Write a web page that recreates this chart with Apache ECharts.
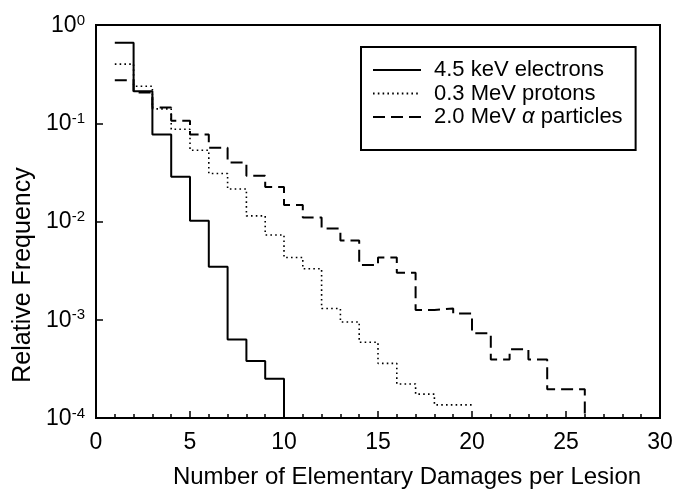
<!DOCTYPE html>
<html>
<head>
<meta charset="utf-8">
<script src="https://cdn.jsdelivr.net/npm/echarts@6/dist/echarts.min.js"></script>
<style>
  html, body { margin: 0; padding: 0; background: #fff; }
  #chart { width: 673px; height: 490px; }
</style>
</head>
<body>
<div id="chart"></div>
<script>
// Relative frequency per bin; bin i spans [firstBin + i, firstBin + i + 1)
const firstBin = 1;
const electrons = [0.658, 0.212, 0.077, 0.0285, 0.0102, 0.00346, 0.00063, 0.00038, 0.000251];
const protons = [0.40, 0.238, 0.14, 0.087, 0.0532, 0.0308, 0.0214, 0.0114, 0.0073, 0.0043,
                 0.0033, 0.0013, 0.00095, 0.00059, 0.00036, 0.000222, 0.000175, 0.000136, 0.000136];
const alphas = [0.274, 0.206, 0.145, 0.106, 0.0769, 0.0562, 0.0399, 0.0292, 0.0225, 0.0147,
                0.011, 0.0085, 0.0064, 0.0036, 0.0043, 0.0030, 0.00126, 0.0013, 0.00116, 0.00073,
                0.000395, 0.0005, 0.000395, 0.000196, 0.000196];

// Level each histogram closes at, on its last bin edge
const yFloor = 1e-4;
const electronsEnd = yFloor;
const protonsEnd = protons[protons.length - 1];
const alphasEnd = yFloor;

const seriesNames = ['4.5 keV electrons', '0.3 MeV protons', '2.0 MeV α particles'];
const xTicks = { min: 0, max: 30, step: 5 };
const yRange = { min: 1e-4, max: 1 };

function toSteps(values, endLevel) {
  const pts = values.map((v, i) => [firstBin + i, v]);
  pts.push([firstBin + values.length, endLevel]);
  return pts;
}

const FONT = '"Liberation Sans", Arial, Helvetica, sans-serif';

const chart = echarts.init(document.getElementById('chart'), null, { renderer: 'canvas' });

const lineBase = { type: 'line', step: 'end', symbol: 'none', showSymbol: false, animation: false };

chart.setOption({
  backgroundColor: '#fff',
  animation: false,
  grid: {
    left: 96, right: 13, top: 25, bottom: 72,
    containLabel: false,
    outerBoundsMode: 'none',
    show: true, borderColor: '#000', borderWidth: 2, backgroundColor: 'transparent'
  },
  legend: {
    orient: 'vertical',
    left: 361, top: 47,
    padding: [12, 13, 22, 11],
    itemGap: 1.5,
    itemWidth: 48,
    itemHeight: 14,
    borderColor: '#000',
    borderWidth: 2,
    backgroundColor: '#fff',
    data: seriesNames,
    // line samples only, no marker dot
    itemStyle: { opacity: 0, color: 'transparent', borderWidth: 0 },
    formatter: function (name) {
      return name.replace('α', '{a|α}');
    },
    textStyle: {
      fontFamily: FONT, fontSize: 22, color: '#000', lineHeight: 22,
      padding: [0, 0, 0, 8],
      rich: { a: { fontFamily: FONT, fontSize: 22, fontStyle: 'italic', color: '#000' } }
    }
  },
  xAxis: {
    type: 'value',
    min: xTicks.min, max: xTicks.max, interval: xTicks.step,
    name: 'Number of Elementary Damages per Lesion',
    nameLocation: 'middle',
    nameGap: 47,
    nameTextStyle: { fontFamily: FONT, fontSize: 24, color: '#000', padding: [0, 0, 0, 58] },
    axisLine: { lineStyle: { color: '#000', width: 2 } },
    axisTick: { inside: true, length: 7, lineStyle: { color: '#000', width: 1.5 } },
    minorTick: { show: true, splitNumber: 5, length: 4, lineStyle: { color: '#000', width: 1.5 } },
    splitLine: { show: false },
    minorSplitLine: { show: false },
    axisLabel: { fontFamily: FONT, fontSize: 23, color: '#000', margin: 13 }
  },
  yAxis: {
    type: 'log', logBase: 10,
    min: yRange.min, max: yRange.max,
    axisLine: { show: true, lineStyle: { color: '#000', width: 2 } },
    axisTick: { show: true, inside: true, length: 7, lineStyle: { color: '#000', width: 1.5 } },
    minorTick: { show: false },
    splitLine: { show: false },
    axisLabel: {
      margin: 11,
      formatter: function (v) {
        const e = Math.round(Math.log10(v));
        return '{b|10}{s|' + e + '}';
      },
      rich: {
        b: { fontFamily: FONT, fontSize: 23, color: '#000', lineHeight: 24, verticalAlign: 'bottom' },
        s: { fontFamily: FONT, fontSize: 15, color: '#000', lineHeight: 12, verticalAlign: 'top' }
      }
    }
  },
  graphic: [{
    type: 'text',
    x: 23, y: 275,
    rotation: Math.PI / 2,
    style: {
      text: 'Relative Frequency',
      font: '25px ' + FONT,
      fill: '#000',
      align: 'center',
      verticalAlign: 'middle'
    }
  }],
  series: [
    Object.assign({}, lineBase, {
      name: seriesNames[0],
      data: toSteps(electrons, electronsEnd),
      lineStyle: { color: '#000', width: 2, type: 'solid' },
      itemStyle: { color: '#000' },
      z: 3
    }),
    Object.assign({}, lineBase, {
      name: seriesNames[1],
      data: toSteps(protons, protonsEnd),
      lineStyle: { color: '#000', width: 1.6, type: [1.6, 3.2] },
      itemStyle: { color: '#000' },
      z: 2
    }),
    Object.assign({}, lineBase, {
      name: seriesNames[2],
      data: toSteps(alphas, alphasEnd),
      lineStyle: { color: '#000', width: 2, type: [12, 6] },
      itemStyle: { color: '#000' },
      z: 2
    })
  ]
});
</script>
</body>
</html>
